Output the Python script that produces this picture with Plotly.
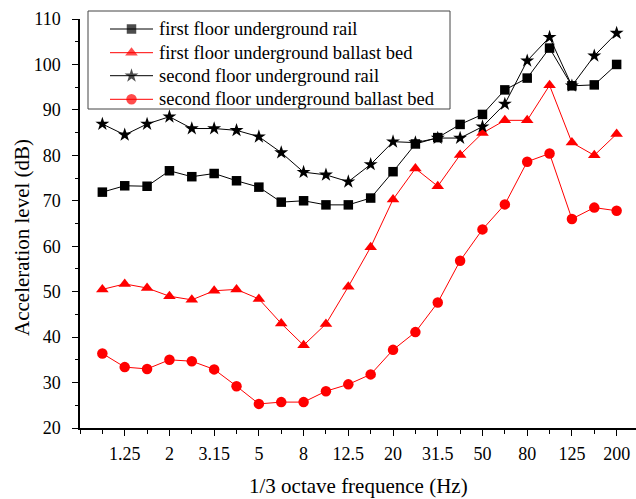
import plotly.graph_objects as go

# 1/3 octave band centre frequencies (Hz)
freq_bands = ["1", "1.25", "1.6", "2", "2.5", "3.15", "4", "5", "6.3", "8", "10", "12.5",
              "16", "20", "25", "31.5", "40", "50", "63", "80", "100", "125", "160", "200"]

# Acceleration level (dB) per band
first_floor_rail = [71.9, 73.3, 73.2, 76.6, 75.3, 76.0, 74.4, 73.0, 69.7, 70.0, 69.1, 69.1,
                    70.6, 76.4, 82.5, 83.9, 86.8, 89.0, 94.4, 97.0, 103.6, 95.3, 95.5, 100.0]
first_floor_ballast = [50.5, 51.7, 50.8, 49.0, 48.2, 50.2, 50.5, 48.4, 43.0, 38.2, 42.9, 51.1,
                       59.8, 70.3, 77.1, 73.2, 80.1, 84.9, 87.7, 87.7, 95.4, 82.8, 80.0, 84.7]
second_floor_rail = [86.9, 84.5, 86.9, 88.5, 85.9, 85.9, 85.5, 84.1, 80.6, 76.3, 75.7, 74.2,
                     78.0, 83.0, 82.8, 83.8, 83.8, 86.3, 91.3, 100.8, 106.0, 95.3, 101.9, 106.9]
second_floor_ballast = [36.4, 33.4, 33.0, 35.0, 34.7, 32.9, 29.2, 25.3, 25.7, 25.7, 28.1, 29.6,
                        31.8, 37.2, 41.1, 47.6, 56.8, 63.7, 69.2, 78.6, 80.4, 66.0, 68.5, 67.8]

series_names = ["first floor underground rail", "first floor underground ballast bed",
                "second floor underground rail", "second floor underground ballast bed"]

FONT = "Liberation Serif, Times New Roman, serif"
W, H = 636, 499
ML, MR, MT, MB = 80, 0, 19, 71
PW, PH = W - ML - MR, H - MT - MB


def px_x(p):
    return (p - ML) / PW


def px_y(p):
    return (H - MB - p) / PH


styles = [
    dict(color="#000000", symbol="square", size=9.5),
    dict(color="#ff0000", symbol="triangle-up", size=11),
    dict(color="#000000", symbol="star", size=10.5),
    dict(color="#ff0000", symbol="circle", size=10.5),
]
values = [first_floor_rail, first_floor_ballast, second_floor_rail, second_floor_ballast]

fig = go.Figure()
xs = list(range(len(freq_bands)))
for name, vals, st in zip(series_names, values, styles):
    fig.add_trace(go.Scatter(
        x=xs, y=vals, mode="lines+markers", name=name, showlegend=False,
        line=dict(color=st["color"], width=1),
        marker=dict(symbol=st["symbol"], size=st["size"], color=st["color"],
                    line=dict(width=0)),
        cliponaxis=False,
    ))

# Boxed key in the upper-left corner, laid out on a pixel-scaled overlay axis
key_rows = [29, 52.7, 75.7, 99.3]
for name, st, ry in zip(series_names, styles, key_rows):
    fig.add_trace(go.Scatter(
        x=[110, 131.5, 153], y=[ry, ry, ry], xaxis="x2", yaxis="y2",
        mode="lines+markers", showlegend=False, hoverinfo="skip",
        line=dict(color=st["color"], width=1),
        marker=dict(symbol=st["symbol"], size=[0, st["size"], 0], color=st["color"],
                    line=dict(width=0)),
        cliponaxis=False,
    ))

shapes = [dict(type="rect", xref="paper", yref="paper",
               x0=px_x(88), x1=px_x(450), y0=px_y(109), y1=px_y(11),
               line=dict(color="#444444", width=1), fillcolor="rgba(0,0,0,0)")]

annotations = []
for name, ry in zip(series_names, key_rows):
    annotations.append(dict(text=name, xref="paper", yref="paper", x=px_x(157), y=px_y(ry),
                            xanchor="left", yanchor="middle", showarrow=False,
                            font=dict(family=FONT, size=18.5, color="#000000")))

annotations.append(dict(text="Acceleration level (dB)", xref="paper", yref="paper",
                        x=px_x(22), y=px_y(238), textangle=-90, xanchor="center",
                        yanchor="middle", showarrow=False,
                        font=dict(family=FONT, size=21, color="#000000")))
annotations.append(dict(text="1/3 octave frequence (Hz)", xref="paper", yref="paper",
                        x=px_x(358), y=px_y(486), xanchor="center", yanchor="middle",
                        showarrow=False, font=dict(family=FONT, size=21, color="#000000")))

label_idx = list(range(1, len(freq_bands), 2))

fig.update_layout(
    width=W, height=H,
    margin=dict(l=ML, r=MR, t=MT, b=MB, pad=0),
    paper_bgcolor="white", plot_bgcolor="white",
    font=dict(family=FONT, size=18, color="#000000"),
    showlegend=False,
    xaxis=dict(
        range=[-1, -1 + PW / 22.36], tickmode="array", tickvals=label_idx,
        ticktext=[freq_bands[i] for i in label_idx],
        ticks="outside", ticklen=6, tickwidth=1.2, tickcolor="#000000",
        minor=dict(tickmode="array", tickvals=list(range(-1, len(freq_bands))),
                   ticks="outside", ticklen=4, tickwidth=1.2, tickcolor="#000000"),
        showline=True, linecolor="#000000", linewidth=1.5, mirror=False,
        showgrid=False, zeroline=False, ticklabelstandoff=3,
        tickfont=dict(family=FONT, size=18, color="#000000"),
    ),
    yaxis=dict(
        range=[20, 110], tickmode="linear", tick0=20, dtick=10,
        ticks="outside", ticklen=6, tickwidth=1.2, tickcolor="#000000",
        minor=dict(dtick=5, ticks="outside", ticklen=3, tickwidth=1.2, tickcolor="#000000"),
        showline=True, linecolor="#000000", linewidth=1.5, mirror=False,
        showgrid=False, zeroline=False, ticklabelstandoff=8,
        tickfont=dict(family=FONT, size=18, color="#000000"),
    ),
    xaxis2=dict(overlaying="x", anchor="y2", range=[ML, W - MR], visible=False,
                showgrid=False, zeroline=False),
    yaxis2=dict(overlaying="y", anchor="x2", range=[H - MB, MT], visible=False,
                showgrid=False, zeroline=False),
    shapes=shapes,
    annotations=annotations,
)

fig.write_html("out.html")
